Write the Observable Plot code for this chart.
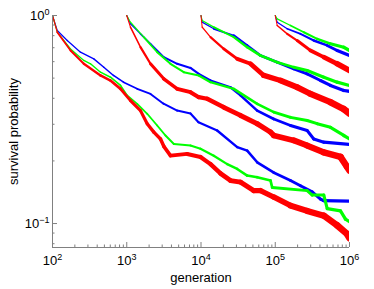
<!DOCTYPE html>
<html><head><meta charset="utf-8">
<script src="https://cdn.jsdelivr.net/npm/d3@7"></script>
<script src="https://cdn.jsdelivr.net/npm/@observablehq/plot@0.6"></script>
<style>
body{margin:0;background:#fff;}
#chart svg{font-family:"Liberation Sans",Arial,Helvetica,sans-serif;}
</style>
</head><body><div id="chart"></div>
<script>
// survival probability curves, [generation, probability]
const blue1 = [[100,1],[116,0.847],[158,0.758],[238,0.666],[360,0.619],[491,0.564],[663,0.515],[904,0.478],[1383,0.444],[2089,0.420],[3126,0.377],[4780,0.349],[7220,0.338],[9250,0.307],[16500,0.280],[30720,0.233],[41860,0.224],[57150,0.197],[94700,0.176],[160400,0.161],[218800,0.152],[314500,0.142],[406600,0.131],[446600,0.129],[1000000,0.128]];
const green1 = [[100,1],[116,0.831],[175,0.691],[264,0.608],[325,0.586],[443,0.534],[604,0.505],[824,0.461],[1014,0.413],[1383,0.376],[1885,0.337],[2570,0.296],[3324,0.265],[4310,0.241],[7220,0.237],[9840,0.229],[14860,0.212],[22520,0.193],[30720,0.183],[41860,0.170],[57150,0.167],[86300,0.161],[91000,0.149],[269000,0.144],[314500,0.137],[450700,0.137],[501000,0.118],[756300,0.115],[883000,0.105],[1000000,0.102]];
const red1 = [[100,1],[116,0.831],[175,0.679],[264,0.586],[443,0.515],[604,0.487],[824,0.444],[1122,0.390],[1531,0.349],[1885,0.302],[2313,0.275],[2849,0.255],[3155,0.235],[3882,0.212],[6520,0.216],[9840,0.209],[13430,0.193],[18320,0.174],[24950,0.161],[34040,0.158],[51400,0.144],[63260,0.144],[95600,0.134],[160400,0.122],[269000,0.115],[450700,0.109],[682000,0.098],[931000,0.089],[1000000,0.085]];

const blue2 = [[1000,1],[1122,0.912],[1531,0.816],[2089,0.731],[3155,0.631],[4780,0.586],[7220,0.560],[9330,0.524],[13430,0.487],[24950,0.452],[34040,0.413],[57150,0.349],[95600,0.318],[160400,0.296],[269000,0.280],[330000,0.255],[450700,0.246],[1000000,0.240]];
const green2 = [[1000,1],[1122,0.929],[1698,0.787],[2570,0.666],[3882,0.586],[5862,0.534],[9330,0.515],[13430,0.478],[27650,0.444],[57150,0.376],[95600,0.343],[160400,0.324],[269000,0.313],[367000,0.302],[554000,0.290],[837000,0.265],[1000000,0.255]];
const red2 = [[1000,1],[1122,0.879],[1531,0.704],[2089,0.586],[3155,0.496],[4780,0.444],[7220,0.428],[9330,0.405],[12110,0.398],[20270,0.362],[34040,0.331],[57150,0.302],[86300,0.275],[95600,0.265],[177700,0.251],[269000,0.237],[450700,0.220],[756300,0.209],[931000,0.187],[1000000,0.180]];

const blue3 = [[10000,1],[10370,0.929],[14860,0.863],[27650,0.801],[41860,0.718],[63260,0.642],[106200,0.596],[177800,0.554],[269000,0.524],[406600,0.487],[554000,0.461],[837000,0.436],[1000000,0.432]];
const green3 = [[10000,1],[10370,0.946],[14860,0.879],[27650,0.787],[41860,0.704],[63260,0.642],[106200,0.596],[177800,0.564],[269000,0.544],[450700,0.505],[682000,0.478],[1000000,0.461]];
const red3 = [[10000,1],[10370,0.879],[13430,0.787],[20270,0.691],[30720,0.619],[46400,0.586],[70100,0.515],[117700,0.487],[197500,0.452],[298300,0.420],[554000,0.383],[837000,0.355],[1000000,0.338]];

const blue4 = [[100000,1],[106200,0.929],[144900,0.863],[218800,0.816],[330000,0.758],[501000,0.718],[682000,0.679],[1000000,0.642]];
const green4 = [[100000,1],[106200,0.964],[160400,0.895],[242500,0.831],[367000,0.772],[554000,0.731],[837000,0.704],[1000000,0.679]];
const red4 = [[100000,1],[106200,0.895],[144900,0.816],[197500,0.758],[298300,0.679],[450700,0.631],[682000,0.586],[1000000,0.544]];

const xMajor = [1e2,1e3,1e4,1e5,1e6];
const yMajor = [0.1,1];
const xMinor = [2,3,4,5,6,7,8,9].flatMap(m => [1e2,1e3,1e4,1e5].map(p => m*p));
const yMinor = [0.08,0.09,0.2,0.3,0.4,0.5,0.6,0.7,0.8,0.9];

const BLUE = "#0000ff", GREEN = "#00ff00", RED = "#ff0000";
const curves = [
  {data: blue1, color: BLUE}, {data: green1, color: GREEN}, {data: red1, color: RED},
  {data: blue2, color: BLUE}, {data: green2, color: GREEN}, {data: red2, color: RED},
  {data: blue3, color: BLUE}, {data: green3, color: GREEN}, {data: red3, color: RED},
  {data: blue4, color: BLUE}, {data: green4, color: GREEN}, {data: red4, color: RED}
];

// stroke width grows with generation (noise band), styling only
function widthOf(color, x0, x) {
  const d = Math.log10(x / x0), a = Math.log10(x) - 2;
  return color === RED ? Math.min(1 + 5 * d, 1.6 + 1.3 * a) : Math.min(1 + 2.5 * d, 1.1 + 0.55 * a);
}
function segments(c) {
  const x0 = c.data[0][0];
  return d3.pairs(c.data).map(([a, b]) => ({x1: a[0], y1: a[1], x2: b[0], y2: b[1],
    w: widthOf(c.color, x0, Math.sqrt(a[0] * b[0]))}));
}

const axisColor = "#808080";
const fmt = d => "10^" + Math.round(Math.log10(d));

const chart = Plot.plot({
  width: 374, height: 289,
  marginLeft: 52, marginRight: 25, marginTop: 15, marginBottom: 42,
  style: {fontSize: "13px", fontFamily: "Liberation Sans, Arial, sans-serif", color: "#000"},
  x: {type: "log", domain: [100, 1e6]},
  y: {type: "log", domain: [0.0767, 1]},
  marks: [
    ...curves.map(c => Plot.link(segments(c), {x1: "x1", y1: "y1", x2: "x2", y2: "y2",
      stroke: c.color, strokeWidth: "w", strokeLinecap: "round", clip: true})),
    Plot.ruleX([100], {stroke: axisColor}),
    Plot.ruleY([0.0767], {stroke: axisColor}),
    Plot.axisX(xMinor, {tickSize: -2.5, tickFormat: () => "", stroke: axisColor, label: null}),
    Plot.axisY(yMinor, {tickSize: -2.5, tickFormat: () => "", stroke: axisColor, label: null}),
    Plot.axisX(xMajor, {tickSize: -5, tickFormat: () => "", stroke: axisColor, label: null}),
    Plot.axisY(yMajor, {tickSize: -5, tickFormat: () => "", stroke: axisColor, label: null}),
    Plot.axisX(xMajor, {tickSize: 0, tickPadding: 8, tickFormat: fmt, fontSize: 13, fill: "#000",
      label: "generation", labelAnchor: "center", labelOffset: 34, labelArrow: "none"}),
    Plot.axisY(yMajor, {tickSize: 0, tickPadding: 3, tickFormat: fmt, fontSize: 13, fill: "#000",
      label: "survival probability", labelAnchor: "center", labelOffset: 44, labelArrow: "none"})
  ]
});

chart.querySelectorAll("text").forEach(t => {
  const m = /^10\^(-?\d+)$/.exec(t.textContent);
  if (m) {
    t.textContent = "10";
    const ts = document.createElementNS("http://www.w3.org/2000/svg", "tspan");
    ts.setAttribute("dy", "-0.55em");
    ts.setAttribute("font-size", "9px");
    ts.textContent = m[1].replace("-", "\u2212");
    t.appendChild(ts);
  }
});

document.getElementById("chart").appendChild(chart);
</script>
</body></html>
